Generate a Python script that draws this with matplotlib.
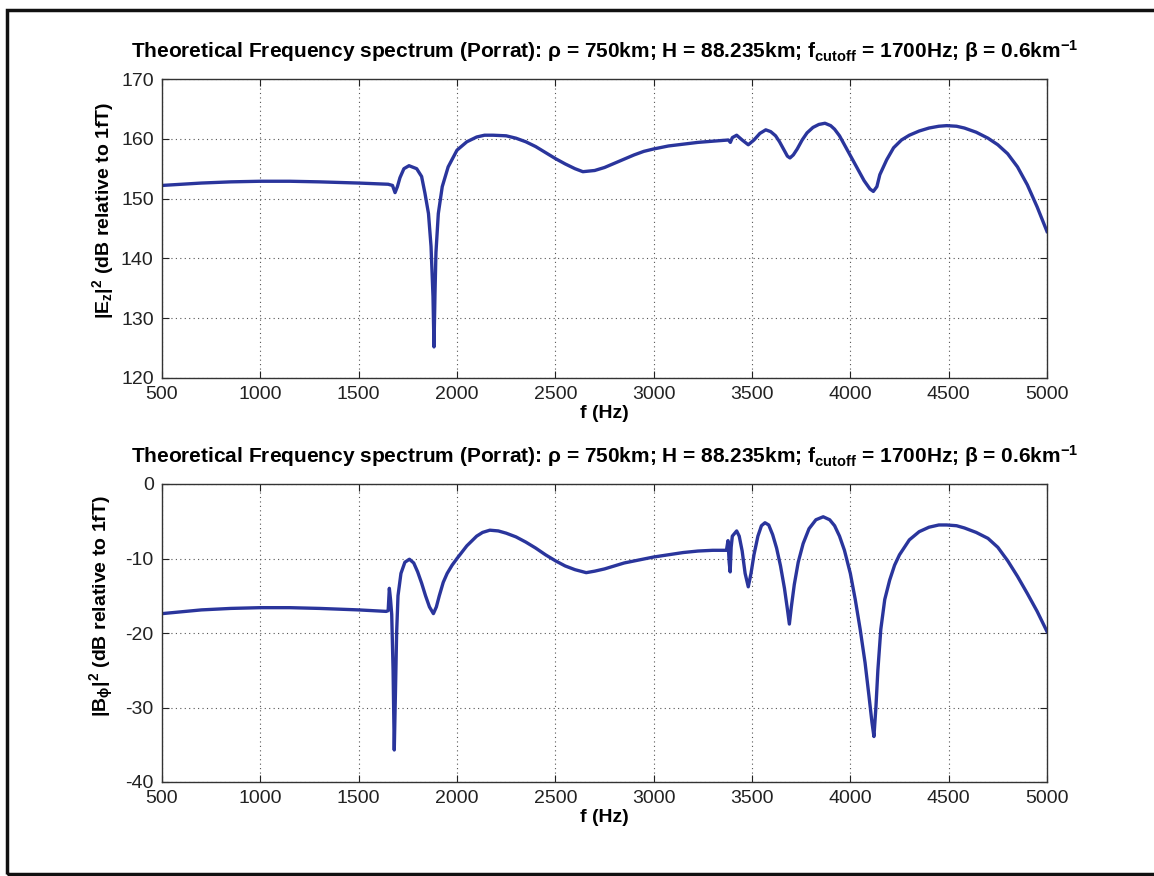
import matplotlib
matplotlib.use("Agg")
import matplotlib.pyplot as plt
from matplotlib.patches import Rectangle

plt.rcParams["font.family"] = ["Liberation Sans", "DejaVu Sans"]
plt.rcParams["mathtext.fontset"] = "custom"
plt.rcParams["mathtext.rm"] = "Liberation Sans:bold"
plt.rcParams["mathtext.it"] = "Liberation Sans:bold"
plt.rcParams["mathtext.bf"] = "Liberation Sans:bold"
plt.rcParams["axes.unicode_minus"] = False

# |Ez|^2 spectrum (dB relative to 1 fT)
freq_ez = [500, 700, 850, 1000, 1150, 1300, 1500, 1650, 1672, 1685, 1697, 1710,
           1730, 1756, 1795, 1820, 1837, 1855, 1868, 1878, 1883, 1888, 1893,
           1905, 1925, 1955, 2000, 2050, 2100, 2140, 2183, 2250, 2300, 2350,
           2400, 2450, 2500, 2550, 2600, 2640, 2700, 2750, 2800, 2850, 2900,
           2950, 3000, 3075, 3150, 3225, 3300, 3380, 3390, 3400, 3422, 3450,
           3481, 3510, 3540, 3570, 3595, 3620, 3640, 3660, 3680, 3693, 3710,
           3730, 3755, 3780, 3810, 3840, 3871, 3900, 3920, 3945, 3970, 3995,
           4020, 4045, 4070, 4100, 4117, 4135, 4150, 4185, 4220, 4260, 4300,
           4350, 4400, 4450, 4490, 4540, 4580, 4640, 4700, 4750, 4800, 4850,
           4900, 4950, 5000]
ez_db = [152.2, 152.6, 152.8, 152.9, 152.9, 152.8, 152.6, 152.4, 152.2, 151.0,
         152.0, 153.5, 155.0, 155.5, 155.0, 153.7, 150.9, 147.5, 142.0, 133.6,
         125.2, 134.0, 141.0, 147.5, 152.0, 155.3, 158.1, 159.5, 160.3, 160.6,
         160.6, 160.5, 160.1, 159.5, 158.7, 157.7, 156.7, 155.8, 155.0, 154.5,
         154.7, 155.2, 155.9, 156.6, 157.3, 157.9, 158.3, 158.8, 159.1, 159.4,
         159.6, 159.8, 159.4, 160.2, 160.6, 159.8, 159.0, 159.8, 160.9, 161.5,
         161.2, 160.5, 159.5, 158.3, 157.1, 156.8, 157.3, 158.3, 159.8, 161.0,
         161.9, 162.4, 162.6, 162.2, 161.6, 160.5, 159.0, 157.5, 156.0, 154.5,
         153.0, 151.6, 151.2, 152.0, 154.0, 156.5, 158.5, 159.8, 160.6, 161.3,
         161.8, 162.1, 162.2, 162.1, 161.8, 161.1, 160.1, 159.0, 157.5, 155.3,
         152.3, 148.6, 144.5]

# |Bphi|^2 spectrum (dB relative to 1 fT)
freq_bphi = [500, 700, 850, 1000, 1150, 1300, 1500, 1640, 1650, 1656, 1662,
             1668, 1675, 1681, 1687, 1693, 1700, 1715, 1735, 1758, 1780, 1800,
             1820, 1840, 1860, 1880, 1895, 1910, 1930, 1950, 1975, 2000, 2050,
             2100, 2130, 2167, 2210, 2250, 2300, 2350, 2400, 2450, 2500, 2550,
             2600, 2657, 2700, 2750, 2800, 2850, 2925, 3000, 3075, 3150, 3225,
             3300, 3370, 3378, 3384, 3389, 3394, 3400, 3422, 3435, 3450, 3465,
             3481, 3495, 3510, 3530, 3548, 3566, 3585, 3605, 3625, 3645, 3665,
             3680, 3690, 3700, 3715, 3735, 3760, 3790, 3825, 3862, 3895, 3920,
             3945, 3970, 4000, 4025, 4050, 4075, 4095, 4110, 4120, 4130, 4140,
             4155, 4175, 4200, 4225, 4250, 4300, 4350, 4400, 4450, 4490, 4540,
             4580, 4640, 4700, 4750, 4800, 4850, 4900, 4950, 5000]
bphi_db = [-17.4, -16.9, -16.7, -16.6, -16.6, -16.7, -16.9, -17.1, -17.0, -14.0,
           -15.5, -17.5, -25.0, -35.7, -28.0, -20.0, -15.0, -12.0, -10.5, -10.1,
           -10.6, -11.8, -13.3, -15.0, -16.5, -17.4, -16.5, -15.0, -13.2, -12.0,
           -10.9, -10.0, -8.3, -7.0, -6.5, -6.2, -6.3, -6.6, -7.1, -7.8, -8.6,
           -9.5, -10.3, -11.0, -11.5, -11.9, -11.7, -11.4, -11.0, -10.6, -10.2,
           -9.8, -9.5, -9.2, -9.0, -8.9, -8.9, -7.6, -10.5, -11.8, -8.5, -7.0,
           -6.3, -7.0, -9.0, -12.0, -13.8, -12.0, -9.5, -7.0, -5.6, -5.2, -5.5,
           -6.8, -8.6, -11.0, -14.0, -16.8, -18.8, -16.5, -13.5, -10.5, -8.0,
           -6.0, -4.8, -4.4, -4.8, -5.6, -7.0, -8.9, -12.0, -15.5, -19.5, -24.0,
           -28.5, -32.0, -33.9, -30.0, -25.0, -19.5, -15.5, -12.9, -10.9, -9.5,
           -7.5, -6.4, -5.8, -5.5, -5.5, -5.6, -5.9, -6.5, -7.3, -8.5, -10.3,
           -12.4, -14.7, -17.1, -19.8]

x_ticks = [500, 1000, 1500, 2000, 2500, 3000, 3500, 4000, 4500, 5000]
ez_ticks = [120, 130, 140, 150, 160, 170]
bphi_ticks = [-40, -30, -20, -10, 0]

title = ("Theoretical Frequency spectrum (Porrat): \u03c1 = 750km; H = 88.235km; "
         "f$_{\\mathrm{cutoff}}$ = 1700Hz; \u03b2 = 0.6km$^{\\mathrm{-1}}$")

line_color = "#2a359c"
W, H = 1154, 876
fig = plt.figure(figsize=(W / 100, H / 100), dpi=100)
fig.patch.set_facecolor("white")

def axes_px(left, top, right, bottom):
    return [left / W, 1 - bottom / H, (right - left) / W, (bottom - top) / H]

ax1 = fig.add_axes(axes_px(162, 79, 1047, 378))
ax2 = fig.add_axes(axes_px(162, 484, 1047, 782))

panels = [
    (ax1, freq_ez, ez_db, ez_ticks, "|E$_z$|$^2$ (dB relative to 1fT)", 0.56),
    (ax2, freq_bphi, bphi_db, bphi_ticks,
     "|B$_\\phi$|$^2$ (dB relative to 1fT)", 0.59),
]

for ax, fx, fy, yt, ylab, ylab_pos in panels:
    ax.plot(fx, fy, color=line_color, lw=2.4, solid_joinstyle="round")
    ax.set_xlim(500, 5000)
    ax.set_ylim(yt[0], yt[-1])
    ax.set_xticks(x_ticks)
    ax.set_yticks(yt)
    ax.grid(True, linestyle=(0, (1, 3)), color="#555555", linewidth=0.8)
    ax.tick_params(direction="in", length=5, width=0.8, top=True, right=True,
                   labelsize=14, colors="#222222", pad=6)
    for s in ax.spines.values():
        s.set_color("#333333")
        s.set_linewidth(1.0)
    ax.set_xlabel("f (Hz)", fontsize=14, fontweight="bold", labelpad=1)
    ax.set_ylabel(ylab, fontsize=14, fontweight="bold")
    ax.yaxis.set_label_coords(-0.052, ylab_pos)
    ax.set_title(title, fontsize=15, fontweight="bold", pad=15)

# outer frame around the figure
fig.patches.append(Rectangle((7 / W, 2 / H), 1.02, (874 - 10) / H,
                             transform=fig.transFigure, fill=False,
                             edgecolor="#111111", linewidth=2.5))

fig.savefig("out.png", dpi=100, facecolor="white")
